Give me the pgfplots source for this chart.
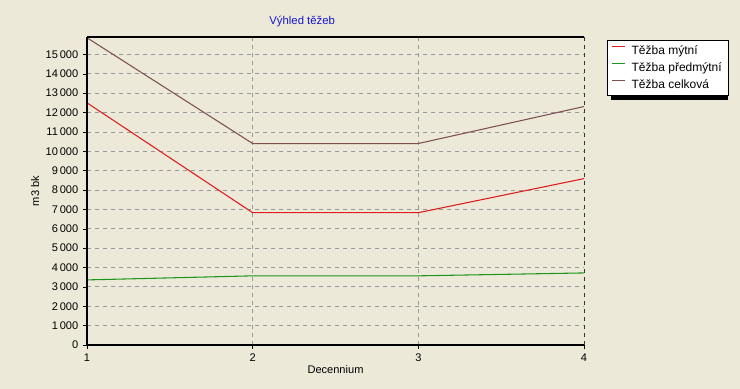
\documentclass[border=0pt]{standalone}
\usepackage{pgfplots}
\pgfplotsset{compat=1.18}
\usepackage{fontspec}
\setmainfont{Liberation Sans}
\definecolor{bg}{RGB}{236,233,216}
\definecolor{cmyt}{RGB}{222,28,28}
\definecolor{cpred}{RGB}{30,150,30}
\definecolor{ccel}{RGB}{128,80,80}
\definecolor{ctitle}{RGB}{20,20,210}
\begin{document}
\begin{tikzpicture}[x=0.75pt,y=0.75pt]
\fill[bg] (-87,-44) rectangle (653,345);
\begin{axis}[
  at={(0,0)}, anchor=south west,
  scale only axis, width=372.75pt, height=231pt,
  xmin=1, xmax=4, ymin=0, ymax=15900,
  scaled y ticks=false,
  xtick={1,2,3,4},
  ytick={0,1000,...,15000},
  yticklabels={0,1\,000,2\,000,3\,000,4\,000,5\,000,6\,000,7\,000,8\,000,9\,000,10\,000,11\,000,12\,000,13\,000,14\,000,15\,000},
  xticklabels={1,2,3,4},
  xtick pos=bottom, ytick pos=left,
  font=\fontsize{8.3}{10}\selectfont,
  tick label style={font=\fontsize{8.3}{10}\selectfont},
  /pgf/number format/assume math mode=true,
  tick align=outside, major tick length=3pt,
  tick style={black, thin},
  grid=major,
  major grid style={gray!80, dashed, line width=0.6pt},
  axis line style={draw=none},
  axis background/.style={fill=bg},
  xlabel={Decennium}, ylabel={m3 bk},
  xlabel style={yshift=4pt},
  ylabel style={yshift=-2pt},
  legend style={at={(1.046,0.99)}, anchor=north west, draw=black, fill=white,
    font=\fontsize{9}{10}\selectfont, row sep=0.5pt, inner xsep=3pt, inner ysep=2pt},
  legend cell align=left,
  legend image code/.code={\draw[#1, line width=1pt] (0pt,3.2pt) -- (10pt,3.2pt); \path (12.5pt,3.2pt);},
  clip=false,
]
\addplot[cmyt, line width=0.8pt] coordinates {(1,12500) (2,6830) (3,6830) (4,8590)};
\addlegendentry{Těžba mýtní}
\addplot[cpred, line width=0.8pt] coordinates {(1,3360) (2,3570) (3,3570) (4,3720)};
\addlegendentry{Těžba předmýtní}
\addplot[ccel, line width=0.8pt] coordinates {(1,15860) (2,10400) (3,10400) (4,12310)};
\addlegendentry{Těžba celková}
\fill[black] (rel axis cs:1.054,0.980) rectangle (rel axis cs:1.289,0.797);
\draw[black, line width=0.8pt] (rel axis cs:0,1) -- (rel axis cs:1,1);
\draw[black!80, dashed, line width=0.6pt] (rel axis cs:1,1) -- (rel axis cs:1,0);
\draw[black, line width=1.5pt] (rel axis cs:0,1) -- (rel axis cs:0,0) -- (rel axis cs:1,0);
\node[ctitle, font=\fontsize{8.5}{10}\selectfont] at (rel axis cs:0.433,1.049) {Výhled těžeb};
\end{axis}
\end{tikzpicture}
\end{document}
